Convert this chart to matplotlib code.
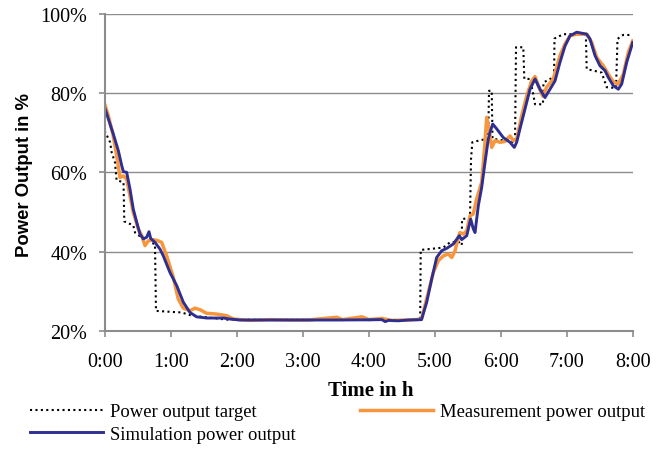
import matplotlib
matplotlib.use("Agg")
import matplotlib.pyplot as plt

# ---- data (time in hours, power output in %) ----
target_t = [0.0, 0.082, 0.106, 0.156, 0.18, 0.285, 0.297, 0.433, 0.459, 0.585,
            0.686, 0.762, 0.777, 1.167, 1.318, 1.848, 4.78, 4.788, 5.13, 5.23,
            5.36, 5.41, 5.414, 5.535, 5.55, 5.57, 5.71, 5.81, 5.823, 5.864,
            5.876, 6.217, 6.232, 6.342, 6.358, 6.444, 6.49, 6.52, 6.64, 6.648,
            6.773, 6.808, 6.815, 6.95, 7.29, 7.303, 7.53, 7.606, 7.747, 7.77,
            7.853, 8.0]
target_v = [70.5, 67.6, 65.0, 62.5, 58.0, 57.5, 47.6, 46.6, 44.8, 43.2,
            42.3, 41.9, 25.0, 24.6, 23.8, 22.8, 22.7, 40.4, 41.0, 42.3,
            42.5, 41.6, 48.2, 48.5, 63.3, 67.6, 68.2, 68.4, 80.6, 80.6,
            68.5, 67.6, 91.6, 91.6, 83.6, 83.6, 80.0, 77.2, 77.2, 82.7,
            83.8, 84.0, 93.8, 94.9, 94.9, 86.1, 85.2, 81.5, 81.3, 93.7,
            94.7, 94.7]

meas_t = [0.0, 0.055, 0.126, 0.182, 0.232, 0.282, 0.333, 0.383, 0.433, 0.509,
          0.561, 0.611, 0.661, 0.736, 0.812, 0.864, 0.939, 1.039, 1.115, 1.191,
          1.292, 1.368, 1.444, 1.545, 1.697, 1.848, 1.948, 2.2, 2.5, 2.8,
          3.1, 3.2, 3.52, 3.6, 3.9, 4.0, 4.2, 4.35, 4.6, 4.8,
          4.979, 5.055, 5.13, 5.206, 5.258, 5.308, 5.358, 5.383, 5.433, 5.485,
          5.535, 5.585, 5.636, 5.712, 5.762, 5.788, 5.827, 5.864, 5.914, 5.989,
          6.065, 6.141, 6.191, 6.242, 6.318, 6.394, 6.47, 6.52, 6.57, 6.636,
          6.697, 6.797, 6.898, 6.974, 7.05, 7.152, 7.303, 7.379, 7.455, 7.555,
          7.63, 7.706, 7.782, 7.858, 7.933, 8.0]
meas_v = [77.2, 74.3, 69.5, 64.2, 58.7, 59.1, 58.3, 54.1, 49.9, 45.7,
          44.0, 41.5, 42.7, 43.0, 42.7, 42.3, 38.9, 33.5, 28.0, 25.7,
          25.05, 25.7, 25.3, 24.4, 24.2, 23.8, 22.95, 22.6, 22.8, 22.7,
          22.7, 22.9, 23.4, 22.8, 23.5, 22.8, 23.1, 22.6, 22.7, 22.9,
          34.7, 37.7, 38.9, 39.4, 38.5, 40.2, 43.6, 44.8, 44.4, 45.2,
          49.0, 49.5, 53.3, 57.5, 67.6, 73.9, 70.5, 66.3, 68.0, 67.6,
          67.8, 69.2, 68.0, 68.4, 74.3, 79.3, 83.1, 84.2, 81.9, 79.3,
          81.5, 83.6, 89.5, 92.4, 94.5, 94.9, 94.9, 92.8, 89.0, 86.9,
          84.8, 82.9, 82.3, 84.8, 90.3, 93.2]

sim_t = [0.0, 0.055, 0.13, 0.206, 0.258, 0.282, 0.333, 0.383, 0.433, 0.485,
         0.535, 0.585, 0.636, 0.671, 0.697, 0.762, 0.838, 0.888, 0.989, 1.091,
         1.191, 1.292, 1.394, 1.545, 1.797, 1.898, 2.05, 2.5, 3.0, 3.5,
         4.0, 4.2, 4.25, 4.3, 4.45, 4.6, 4.8, 4.879, 4.955, 5.03,
         5.106, 5.182, 5.282, 5.373, 5.409, 5.485, 5.545, 5.585, 5.611, 5.661,
         5.712, 5.762, 5.812, 5.838, 5.879, 5.939, 6.039, 6.141, 6.206, 6.242,
         6.292, 6.368, 6.444, 6.52, 6.595, 6.671, 6.747, 6.823, 6.898, 6.974,
         7.05, 7.152, 7.303, 7.353, 7.429, 7.505, 7.58, 7.63, 7.706, 7.782,
         7.833, 7.909, 8.0]
sim_v = [76.4, 73.5, 69.7, 65.5, 61.7, 60.2, 60.0, 55.8, 50.7, 47.4,
         44.4, 43.2, 43.6, 45.0, 43.3, 42.3, 40.6, 38.9, 34.7, 31.4,
         27.2, 24.6, 23.5, 23.2, 23.2, 22.95, 22.7, 22.7, 22.7, 22.7,
         22.75, 22.8, 22.3, 22.6, 22.5, 22.7, 22.8, 27.2, 33.1, 38.5,
         40.2, 40.8, 41.9, 44.0, 43.0, 44.0, 48.2, 45.7, 44.8, 51.6,
         56.2, 62.5, 68.4, 70.1, 72.2, 71.0, 68.8, 67.6, 66.3, 67.6,
         71.0, 76.0, 81.0, 83.6, 81.0, 78.9, 81.0, 83.1, 87.8, 91.9,
         94.5, 95.4, 94.9, 93.7, 89.5, 86.9, 85.7, 84.0, 81.9, 81.0,
         82.3, 87.8, 92.8]

hour_ticks = [0, 1, 2, 3, 4, 5, 6, 7, 8]
hour_labels = ["0:00", "1:00", "2:00", "3:00", "4:00", "5:00", "6:00", "7:00", "8:00"]
pct_ticks = [20, 40, 60, 80, 100]
pct_labels = ["20%", "40%", "60%", "80%", "100%"]

# ---- styling ----
W, H = 669, 456
GRAY = "#8C8C8C"
ORANGE = "#F7963C"
NAVY = "#2F2F91"
SERIF = "Liberation Serif"

fig = plt.figure(figsize=(W / 100, H / 100), dpi=100)
ax = fig.add_axes([104.7 / W, 1 - 331.7 / H, 528 / W, 316.7 / H])

l_target, = ax.plot(target_t, target_v, color="black", lw=1.5,
                    linestyle=(0, (1, 1.6)), zorder=2)
l_meas, = ax.plot(meas_t, meas_v, color=ORANGE, lw=2.5, zorder=3,
                  solid_joinstyle="round")
l_sim, = ax.plot(sim_t, sim_v, color=NAVY, lw=2.1, zorder=4,
                 solid_joinstyle="round")

ax.set_xlim(0, 8)
ax.set_ylim(20, 100)
ax.set_xticks(hour_ticks)
ax.set_xticklabels(hour_labels, fontfamily=SERIF, fontsize=14.5)
ax.set_yticks(pct_ticks)
ax.set_yticklabels(pct_labels, fontfamily=SERIF, fontsize=14.5)
ax.tick_params(axis="x", direction="out", length=4, width=1.2, color=GRAY, pad=11)
ax.tick_params(axis="y", direction="out", length=4, width=1.2, color=GRAY, pad=8.5)

ax.grid(axis="y", color=GRAY, lw=1.0)
ax.set_axisbelow(True)
for side in ("top", "right"):
    ax.spines[side].set_visible(False)
for side in ("left", "bottom"):
    ax.spines[side].set_color(GRAY)
    ax.spines[side].set_linewidth(1.5)
    ax.spines[side].set_zorder(5)

fig.text(25 / W, 1 - 175 / H, "Power Output in %", rotation=90,
         ha="center", va="center", fontfamily="Liberation Sans",
         fontweight="bold", fontsize=13.3)
fig.text(371 / W, 1 - 391 / H, "Time in h", ha="center", va="center",
         fontfamily=SERIF, fontweight="bold", fontsize=15)

fig.legend([l_target, l_sim, l_meas],
           ["Power output target", "Simulation power output",
            "Measurement power output"],
           ncol=2, loc="upper left", bbox_to_anchor=(30 / W, 1 - 404 / H),
           frameon=False, prop={"family": SERIF, "size": 13.4},
           handlelength=3.9, handletextpad=0.4, columnspacing=3.45,
           labelspacing=0.3, borderpad=0, borderaxespad=0)

fig.savefig("out.png", dpi=100)
